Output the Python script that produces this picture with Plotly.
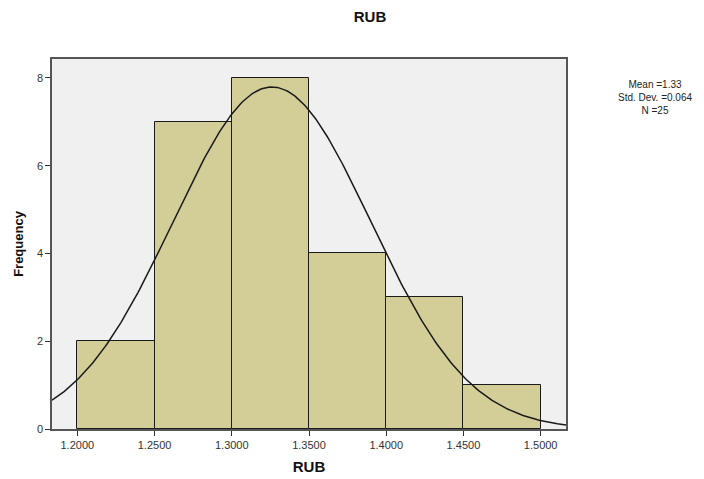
import numpy as np
import plotly.graph_objects as go

bin_edges = [1.20, 1.25, 1.30, 1.35, 1.40, 1.45, 1.50]
frequencies = [2, 7, 8, 4, 3, 1]
mean_val = 1.326
std_val = 0.064
n_val = 25
x_ticks = [1.20, 1.25, 1.30, 1.35, 1.40, 1.45, 1.50]
x_tick_labels = ["1.2000", "1.2500", "1.3000", "1.3500", "1.4000", "1.4500", "1.5000"]
y_ticks = [0, 2, 4, 6, 8]
stat_lines = ["Mean =1.33", "Std. Dev. =0.064", "N =25"]

centers = [(bin_edges[i] + bin_edges[i + 1]) / 2 for i in range(len(frequencies))]
widths = [bin_edges[i + 1] - bin_edges[i] for i in range(len(frequencies))]

x_range = [1.1836, 1.5164]
xs = np.linspace(x_range[0], x_range[1], 300)
bw = widths[0]
ys = n_val * bw / (std_val * np.sqrt(2 * np.pi)) * np.exp(-0.5 * ((xs - mean_val) / std_val) ** 2)

# page body has an 8px margin; figure sized/offset to compensate
W, H, OFF = 696, 471, 8
L, R, T, B = 44, 138, 51, 50

fig = go.Figure()
fig.add_trace(go.Bar(x=centers, y=frequencies, width=widths,
                     marker=dict(color="#D3CE98", line=dict(color="#1a1a1a", width=1)),
                     hoverinfo="skip"))
fig.add_trace(go.Scatter(x=xs, y=ys, mode="lines", line=dict(color="#1a1a1a", width=1.5),
                         hoverinfo="skip"))

fig.update_layout(
    width=W, height=H,
    margin=dict(l=L, r=R, t=T, b=B),
    paper_bgcolor="white", plot_bgcolor="#F0F0F0",
    showlegend=False, bargap=0,
    font=dict(family="Liberation Sans, Arial, sans-serif", color="#222"),
    title=dict(text="<b>RUB</b>", x=(370 - OFF) / W, xanchor="center", y=1 - (17 - OFF) / H, yanchor="middle",
               font=dict(size=15, color="#111")),
)
fig.update_xaxes(range=x_range, tickvals=x_ticks, ticktext=x_tick_labels, automargin=False,
                 ticks="outside", ticklen=5, tickcolor="#333", showgrid=False, zeroline=False,
                 showline=True, linecolor="#555", linewidth=1.5, mirror=True,
                 tickfont=dict(size=11, color="#333"),
                 title=dict(text="<b>RUB</b>", font=dict(size=15, color="#111"), standoff=12))
fig.update_yaxes(range=[0, 8.43], tickvals=y_ticks, automargin=False,
                 ticks="outside", ticklen=5, tickcolor="#333", showgrid=False, zeroline=False,
                 showline=True, linecolor="#555", linewidth=1.5, mirror=True,
                 tickfont=dict(size=11, color="#333"),
                 title=dict(text="<b>Frequency</b>", font=dict(size=13, color="#111"), standoff=10))

plot_w = W - L - R
plot_h = H - T - B
fig.add_annotation(text="<br>".join(stat_lines), xref="paper", yref="paper",
                   x=(655 - OFF - L) / plot_w, y=1 - (97 - OFF - T) / plot_h,
                   xanchor="center", yanchor="middle", showarrow=False, align="center",
                   font=dict(size=10, color="#222"))

fig.write_html("out.html")
